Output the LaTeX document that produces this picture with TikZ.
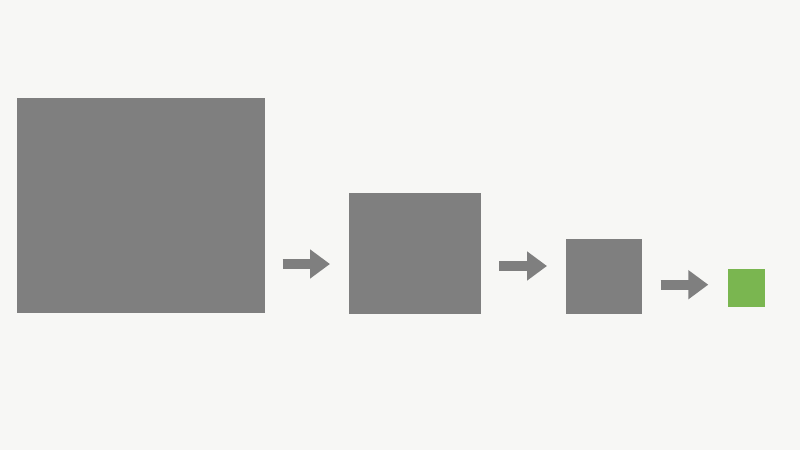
\documentclass[tikz,border=0pt]{standalone}
\usetikzlibrary{arrows.meta}
\definecolor{bg}{RGB}{247,247,245}
\definecolor{boxgray}{RGB}{127,127,127}
\definecolor{boxgreen}{RGB}{122,182,80}
\begin{document}
\begin{tikzpicture}[x=1pt,y=-1pt,
  blk/.style={fill=boxgray,draw=none,inner sep=0pt,anchor=north west},
  blkgreen/.style={fill=boxgreen,draw=none,inner sep=0pt,anchor=north west},
  flow/.style={draw=boxgray,line width=10pt,-{Triangle[length=20pt,width=28pt]}}]
  \fill[bg] (0,0) rectangle (800,450);
  \useasboundingbox (0,0) rectangle (800,450);
  \node[blk,minimum width=248pt,minimum height=215pt] (b1) at (17,98) {};
  \node[blk,minimum width=132pt,minimum height=121pt] (b2) at (349,192.5) {};
  \node[blk,minimum width=76.5pt,minimum height=74.5pt] (b3) at (565.7,239) {};
  \node[blkgreen,minimum width=37pt,minimum height=38pt] (b4) at (727.3,268.3) {};
  \coordinate (a1s) at (282.7,264);
  \coordinate (a1e) at (330,264);
  \coordinate (a2s) at (499.3,266);
  \coordinate (a2e) at (547,266);
  \coordinate (a3s) at (660.7,284.7);
  \coordinate (a3e) at (708.3,284.7);
  \draw[flow] (a1s) -- (a1e);
  \draw[flow] (a2s) -- (a2e);
  \draw[flow] (a3s) -- (a3e);
\end{tikzpicture}
\end{document}
